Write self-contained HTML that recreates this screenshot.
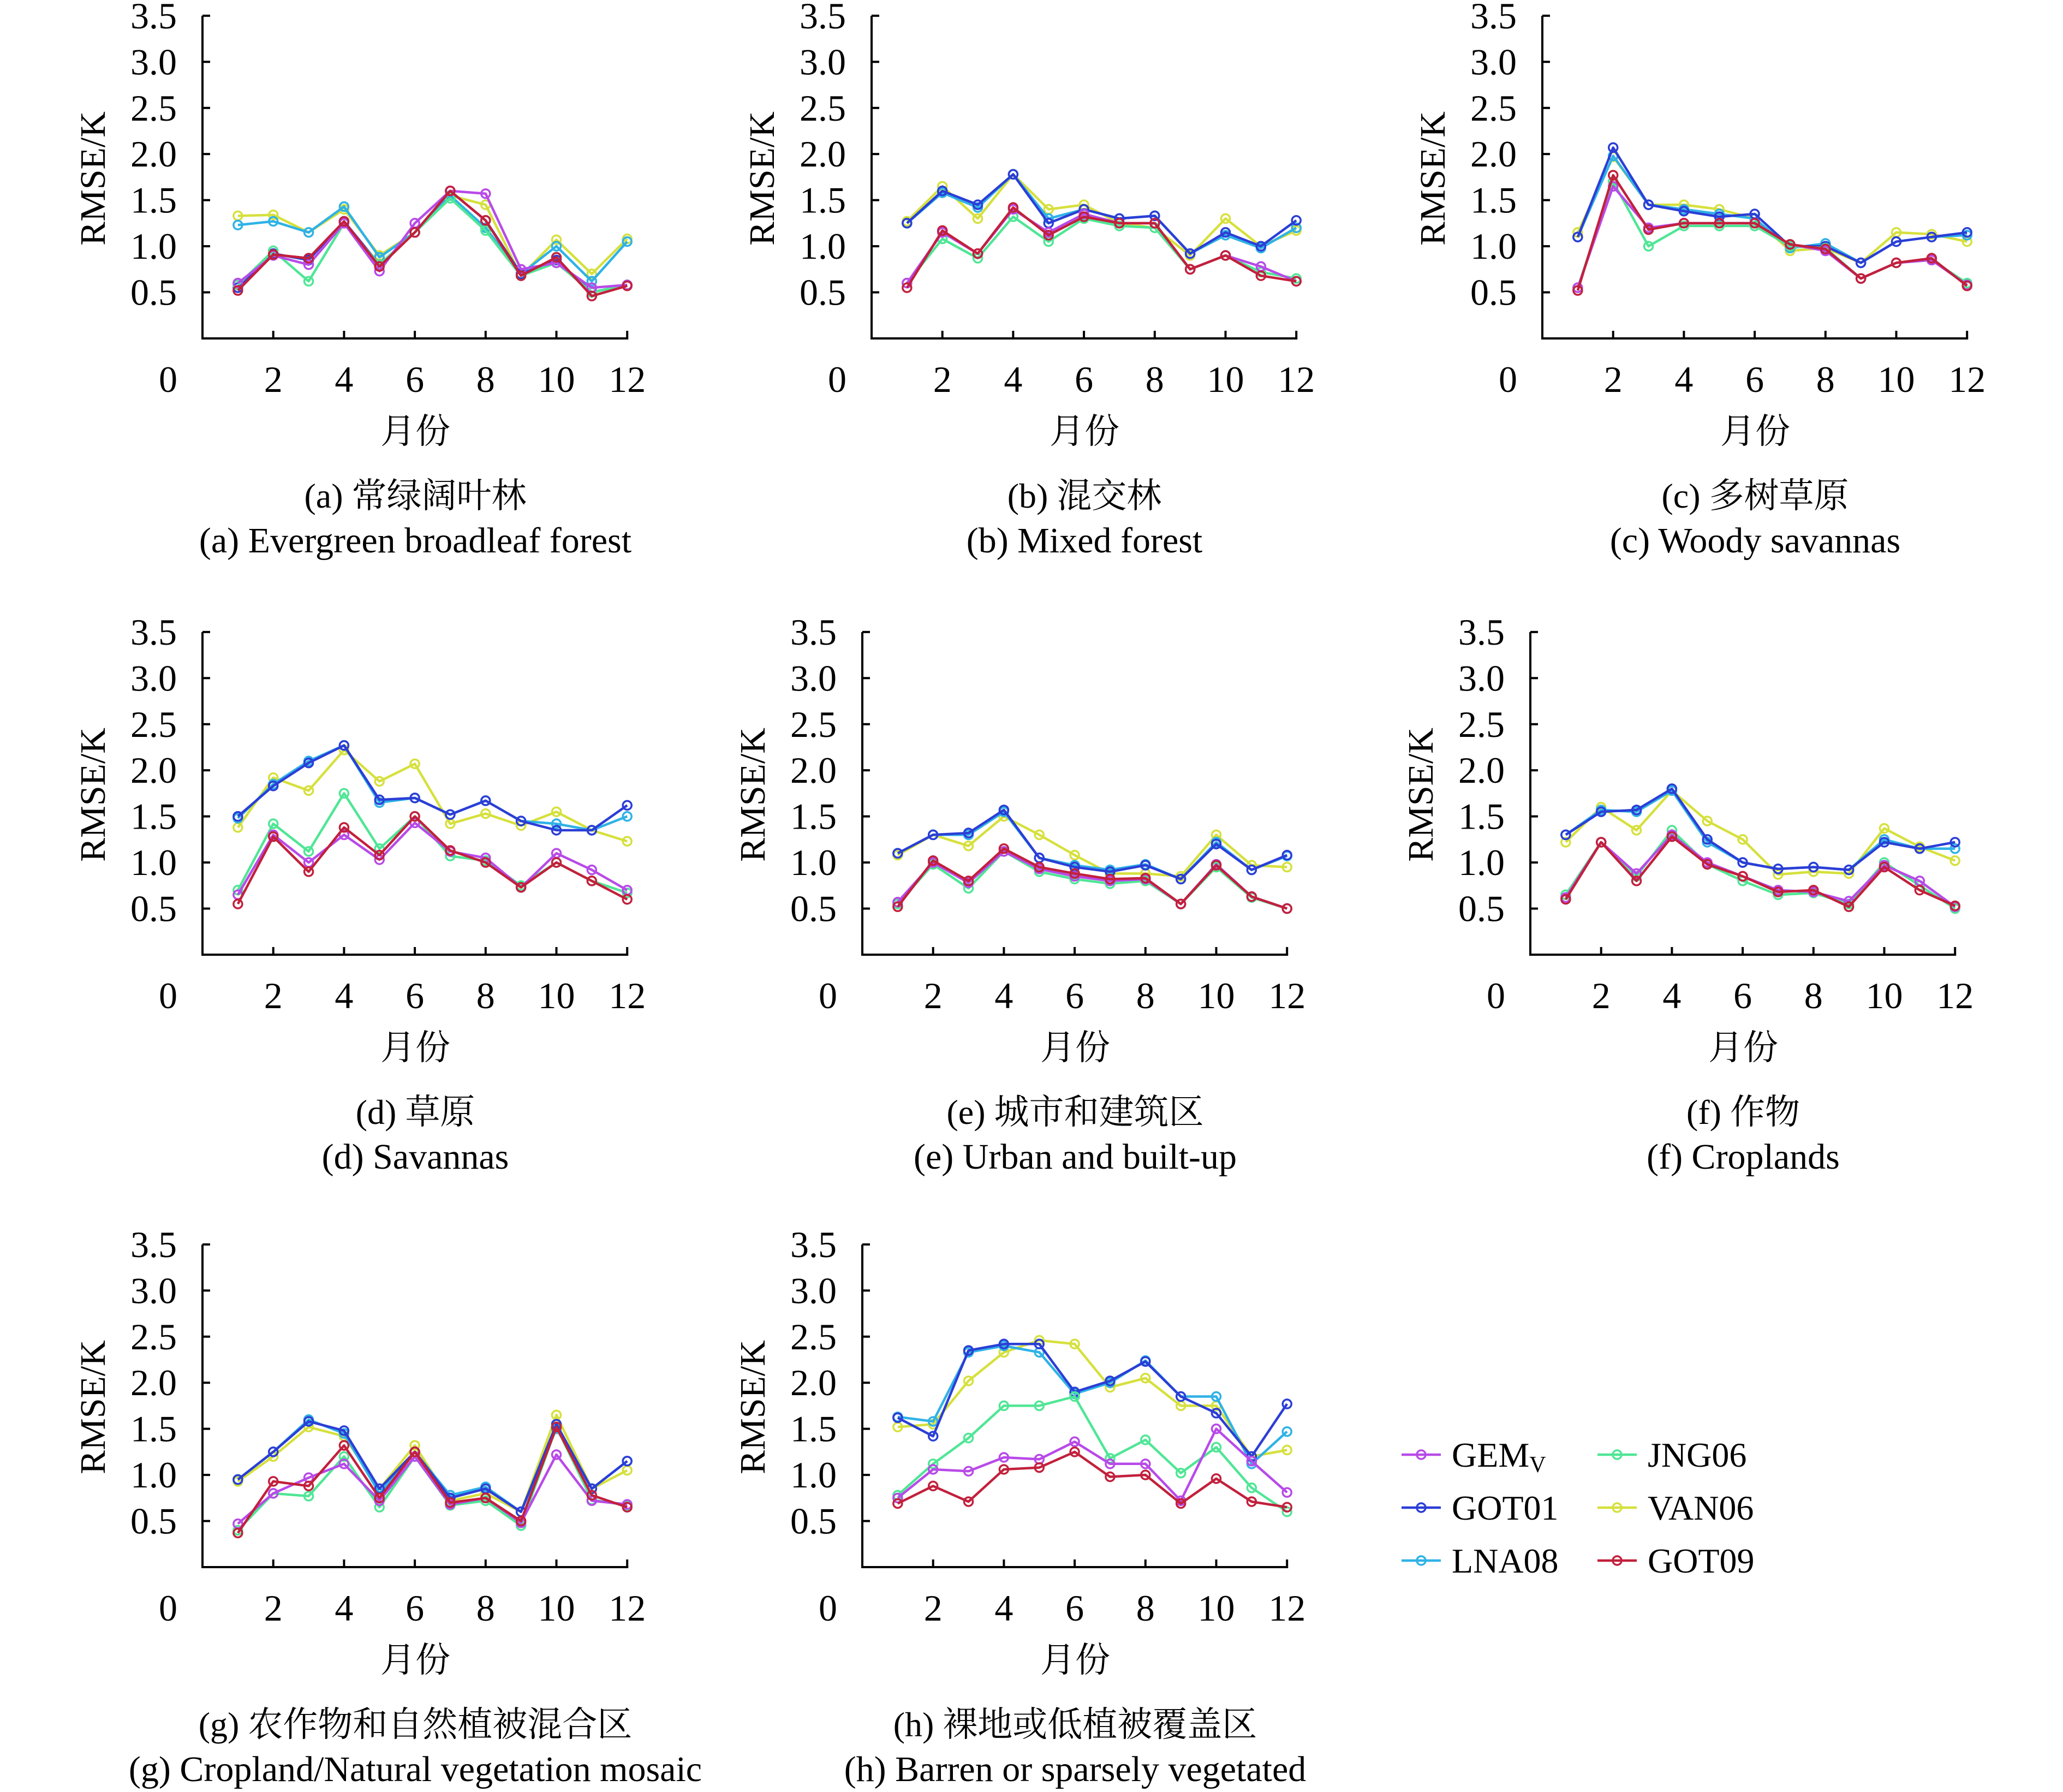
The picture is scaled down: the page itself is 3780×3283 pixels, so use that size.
<!DOCTYPE html>
<html><head><meta charset="utf-8">
<style>
html,body{margin:0;padding:0;background:#fff;}
svg{display:block;}
text{font-family:"Liberation Serif","Noto Serif CJK SC","Noto Sans CJK SC",serif;fill:#000;}
</style></head>
<body>
<svg id="chart" width="3780" height="3283" viewBox="0 0 3780 3283" xmlns="http://www.w3.org/2000/svg"></svg>
<script>
const months = [1,2,3,4,5,6,7,8,9,10,11,12];
const yTicks = [0.5,1.0,1.5,2.0,2.5,3.0,3.5];
const xTicks = [2,4,6,8,10,12];
const seriesNames = ["VAN06","LNA08","GOT01","JNG06","GEMV","GOT09"];
const seriesColors = {GEMV:"#b84ae8",GOT01:"#2b3ed6",LNA08:"#2fb2e6",JNG06:"#4fe695",VAN06:"#d6e03c",GOT09:"#c2203c"};
const panelTitlesCN = ["(a) 常绿阔叶林","(b) 混交林","(c) 多树草原","(d) 草原","(e) 城市和建筑区","(f) 作物","(g) 农作物和自然植被混合区","(h) 裸地或低植被覆盖区"];
const panelTitlesEN = ["(a) Evergreen broadleaf forest","(b) Mixed forest","(c) Woody savannas","(d) Savannas","(e) Urban and built-up","(f) Croplands","(g) Cropland/Natural vegetation mosaic","(h)  Barren or sparsely vegetated"];

const dataA = {GEMV:[0.6,0.9,0.8,1.25,0.73,1.25,1.6,1.57,0.75,0.82,0.55,0.58],
GOT01:[0.55,0.92,0.85,1.27,0.8,1.15,1.6,1.28,0.7,0.85,0.5,0.58],
LNA08:[1.23,1.27,1.15,1.43,0.88,1.15,1.55,1.2,0.7,1.0,0.62,1.05],
JNG06:[0.58,0.95,0.62,1.25,0.8,1.15,1.52,1.17,0.68,0.82,0.5,0.58],
VAN06:[1.33,1.34,1.15,1.4,0.9,1.15,1.55,1.45,0.68,1.07,0.7,1.08],
GOT09:[0.52,0.91,0.87,1.27,0.78,1.15,1.6,1.28,0.68,0.88,0.46,0.57]};
const dataB = {GEMV:[0.6,1.15,0.92,1.4,1.15,1.35,1.25,1.25,0.75,0.9,0.78,0.62],
GOT01:[1.25,1.6,1.45,1.78,1.25,1.4,1.3,1.33,0.92,1.15,1.0,1.28],
LNA08:[1.25,1.58,1.42,1.78,1.3,1.4,1.3,1.33,0.92,1.12,0.98,1.2],
JNG06:[0.6,1.08,0.87,1.32,1.05,1.3,1.22,1.2,0.75,0.9,0.72,0.65],
VAN06:[1.27,1.65,1.3,1.78,1.4,1.45,1.25,1.2,0.9,1.3,1.0,1.17],
GOT09:[0.55,1.17,0.92,1.42,1.12,1.32,1.25,1.25,0.75,0.9,0.68,0.62]};
const dataC = {GEMV:[0.55,1.65,1.2,1.25,1.25,1.25,1.02,0.95,0.65,0.82,0.85,0.58],
GOT01:[1.1,2.07,1.45,1.38,1.32,1.35,1.0,1.0,0.82,1.05,1.1,1.15],
LNA08:[1.1,1.98,1.45,1.4,1.35,1.3,0.98,1.03,0.82,1.05,1.1,1.12],
JNG06:[0.55,1.7,1.0,1.22,1.22,1.22,1.0,0.98,0.65,0.82,0.85,0.6],
VAN06:[1.15,1.97,1.45,1.45,1.4,1.3,0.95,0.98,0.82,1.15,1.13,1.05],
GOT09:[0.52,1.77,1.18,1.25,1.25,1.25,1.02,0.97,0.65,0.82,0.87,0.57]};
const dataD = {GEMV:[0.65,1.3,1.0,1.3,1.03,1.43,1.12,1.05,0.73,1.1,0.92,0.7],
GOT01:[1.5,1.83,2.08,2.27,1.68,1.7,1.52,1.67,1.45,1.35,1.35,1.62],
LNA08:[1.48,1.85,2.1,2.27,1.65,1.7,1.52,1.67,1.45,1.42,1.35,1.5],
JNG06:[0.7,1.42,1.12,1.75,1.15,1.5,1.07,1.02,0.75,1.0,0.8,0.67],
VAN06:[1.38,1.92,1.78,2.22,1.88,2.07,1.42,1.53,1.4,1.55,1.35,1.23],
GOT09:[0.55,1.28,0.9,1.38,1.08,1.5,1.13,1.0,0.73,1.0,0.8,0.6]};
const dataE = {GEMV:[0.57,1.0,0.78,1.12,0.93,0.85,0.8,0.82,0.55,0.98,0.63,0.5],
GOT01:[1.1,1.3,1.32,1.57,1.05,0.95,0.9,0.97,0.82,1.2,0.92,1.08],
LNA08:[1.1,1.3,1.3,1.55,1.05,0.97,0.92,0.98,0.82,1.22,0.92,1.07],
JNG06:[0.55,0.98,0.72,1.12,0.9,0.82,0.77,0.8,0.55,0.95,0.62,0.5],
VAN06:[1.08,1.3,1.18,1.5,1.3,1.08,0.88,0.88,0.85,1.3,0.97,0.95],
GOT09:[0.52,1.02,0.8,1.15,0.95,0.88,0.82,0.83,0.55,0.97,0.63,0.5]};
const dataF = {GEMV:[0.62,1.22,0.88,1.3,1.0,0.85,0.7,0.68,0.58,0.97,0.8,0.52],
GOT01:[1.3,1.55,1.57,1.8,1.25,1.0,0.93,0.95,0.92,1.22,1.15,1.22],
LNA08:[1.3,1.57,1.55,1.78,1.22,1.0,0.93,0.95,0.92,1.25,1.15,1.15],
JNG06:[0.65,1.22,0.85,1.35,0.98,0.8,0.65,0.67,0.55,1.0,0.75,0.5],
VAN06:[1.22,1.6,1.35,1.78,1.45,1.25,0.87,0.9,0.88,1.37,1.17,1.02],
GOT09:[0.6,1.22,0.8,1.28,0.98,0.85,0.68,0.7,0.52,0.95,0.7,0.53]};
const dataG = {GEMV:[0.47,0.8,0.97,1.12,0.72,1.2,0.68,0.75,0.48,1.22,0.72,0.68],
GOT01:[0.95,1.25,1.58,1.48,0.85,1.25,0.75,0.85,0.6,1.55,0.85,1.15],
LNA08:[0.95,1.25,1.6,1.45,0.8,1.25,0.78,0.87,0.6,1.5,0.85,1.15],
JNG06:[0.4,0.8,0.77,1.2,0.65,1.2,0.67,0.72,0.45,1.52,0.73,0.67],
VAN06:[0.93,1.2,1.52,1.42,0.85,1.32,0.72,0.8,0.6,1.65,0.85,1.05],
GOT09:[0.37,0.93,0.88,1.32,0.75,1.25,0.7,0.75,0.5,1.52,0.78,0.65]};
const dataH = {GEMV:[0.75,1.06,1.04,1.19,1.17,1.36,1.12,1.12,0.72,1.5,1.15,0.81],
GOT01:[1.62,1.42,2.35,2.42,2.42,1.9,2.02,2.23,1.85,1.67,1.2,1.77],
LNA08:[1.63,1.58,2.33,2.4,2.33,1.88,2.0,2.24,1.85,1.85,1.12,1.47],
JNG06:[0.78,1.12,1.4,1.75,1.75,1.85,1.18,1.38,1.02,1.3,0.86,0.6],
VAN06:[1.52,1.55,2.02,2.33,2.46,2.42,1.95,2.05,1.75,1.75,1.2,1.27],
GOT09:[0.69,0.88,0.71,1.06,1.08,1.25,0.98,1.0,0.69,0.96,0.71,0.65]};
const panelData = [dataA,dataB,dataC,dataD,dataE,dataF,dataG,dataH];

const NS = "http://www.w3.org/2000/svg";
const svg = document.getElementById("chart");
function mk(tag, attrs, parent){ const e=document.createElementNS(NS,tag); for(const k in attrs) e.setAttribute(k,attrs[k]); (parent||svg).appendChild(e); return e; }

const panelOffsets = [[0,0],[1226,0],[2455,0],[0,1129],[1209,1129],[2433,1129],[0,2251],[1209,2251]];
const X0=371, Y0=620, MSTEP=64.85, YUNIT=168.9;

panelData.forEach((data,pi)=>{
  const [dx,dy]=panelOffsets[pi];
  const g = mk("g",{transform:`translate(${dx},${dy})`});
  
  
  const xs = m => X0 + m*MSTEP;
  const ys = v => Y0 - v*YUNIT;
  const yax = mk("line",{x1:X0,y1:ys(3.5),x2:X0,y2:Y0,stroke:"#000","stroke-width":4},g);
  
  
  const xax = mk("line",{x1:X0-2,y1:Y0,x2:xs(12)+2,y2:Y0,stroke:"#000","stroke-width":4},g);
  
  
  yTicks.forEach(t=>{
    mk("line",{x1:X0,y1:ys(t),x2:X0+14,y2:ys(t),stroke:"#000","stroke-width":4},g);
    const tx = mk("text",{x:324,y:ys(t)+23,"font-size":68,"text-anchor":"end"},g);
    tx.textContent = t.toFixed(1);
    
    
  });
  const z = mk("text",{x:308,y:718,"font-size":68,"text-anchor":"middle"},g);
  z.textContent="0";
  
  
  xTicks.forEach(t=>{
    mk("line",{x1:xs(t),y1:Y0,x2:xs(t),y2:Y0-14,stroke:"#000","stroke-width":4},g);
    const tx = mk("text",{x:xs(t),y:718,"font-size":68,"text-anchor":"middle"},g);
    tx.textContent = t;
    
    
  });
  const yt = mk("text",{x:0,y:0,"font-size":66,"text-anchor":"middle",transform:"translate(192,327) rotate(-90)"},g);
  yt.textContent="RMSE/K";
  
  
  const xt = mk("text",{x:761,y:812,"font-size":64,"text-anchor":"middle"},g);
  xt.textContent="月份";
  
  
  const c1 = mk("text",{x:761,y:930,"font-size":64,"text-anchor":"middle"},g);
  c1.textContent=panelTitlesCN[pi];
  
  
  const c2 = mk("text",{x:761,y:1012,"font-size":66,"text-anchor":"middle"},g);
  c2.textContent=panelTitlesEN[pi];
  
  
  seriesNames.forEach(name=>{
    const vals=data[name], col=seriesColors[name];
    const pts = vals.map((v,i)=>xs(months[i]).toFixed(1)+","+ys(v).toFixed(1)).join(" ");
    const pl = mk("polyline",{points:pts,fill:"none",stroke:col,"stroke-width":4.5,"stroke-linejoin":"round"},g);
    
    
    vals.forEach((v,i)=>{
      const c = mk("circle",{cx:xs(months[i]),cy:ys(v),r:8,fill:"none",stroke:col,"stroke-width":3.5},g);
      
      
    });
  });
});

// legend
const legendItems = [["GEMV",2568,2665],["GOT01",2568,2762],["LNA08",2568,2859],["JNG06",2927,2665],["VAN06",2927,2762],["GOT09",2927,2859]];
legendItems.forEach(([name,lx,ly])=>{
  const g = mk("g",{});
  
  
  const col=seriesColors[name];
  mk("line",{x1:lx,y1:ly,x2:lx+72,y2:ly,stroke:col,"stroke-width":4.5},g);
  mk("circle",{cx:lx+36,cy:ly,r:8,fill:"none",stroke:col,"stroke-width":3.5},g);
  const t = mk("text",{x:lx+92,y:ly+22,"font-size":64},g);
  if(name==="GEMV"){
    t.textContent="GEM";
    const s = mk("tspan",{"font-size":42,dy:10},t);
    s.textContent="V";
  } else t.textContent=name;
});
</script>
</body></html>
